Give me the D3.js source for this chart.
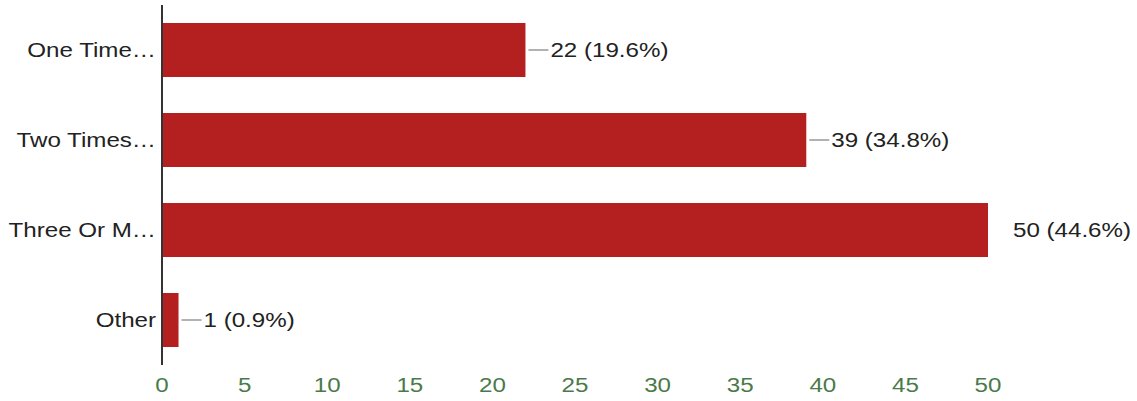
<!DOCTYPE html>
<html>
<head>
<meta charset="utf-8">
<script src="https://cdn.jsdelivr.net/npm/d3@7"></script>
<style>
  html, body { margin: 0; padding: 0; background: #fff; }
  text { font-family: "Liberation Sans", Arial, sans-serif; }
</style>
</head>
<body>
<div id="chart"></div>
<script>
// answers and counts
const categories = ["One Time\u2026", "Two Times\u2026", "Three Or M\u2026", "Other"];
const counts = [22, 39, 50, 1];
const percents = ["19.6%", "34.8%", "44.6%", "0.9%"];
const xTicks = [0, 5, 10, 15, 20, 25, 30, 35, 40, 45, 50];

const width = 1137, height = 401;
const stretch = 1.15; // the scan is wider than it is tall

const svg = d3.select("#chart")
  .append("svg")
  .attr("width", width)
  .attr("height", height);

const x = d3.scaleLinear().domain([0, 50]).range([162, 988]);
const y = d3.scaleBand().domain(categories).range([5, 365]).paddingInner(0.4).paddingOuter(0.2);

const data = categories.map((c, i) => ({ cat: c, value: counts[i], pct: percents[i] }));
const maxVal = d3.max(counts);

// bars
svg.selectAll(".bar")
  .data(data)
  .enter()
  .append("rect")
  .attr("class", "bar")
  .attr("x", x(0))
  .attr("y", d => y(d.cat))
  .attr("width", d => x(d.value) - x(0))
  .attr("height", y.bandwidth())
  .attr("fill", "#b3201f");

// vertical axis line
svg.append("line")
  .attr("x1", x(0)).attr("x2", x(0))
  .attr("y1", 5).attr("y2", 365)
  .attr("stroke", "#333")
  .attr("stroke-width", 2);

// helper for stretched text
function label(sel, tx, ty, anchor, str, color) {
  const g = sel.append("g").attr("transform", `translate(${tx},${ty}) scale(${stretch},1)`);
  g.append("text")
    .attr("text-anchor", anchor)
    .attr("dominant-baseline", "central")
    .style("font-size", "21px")
    .style("fill", color)
    .text(str);
}

// category labels
data.forEach(d => {
  label(svg, x(0) - 6, y(d.cat) + y.bandwidth() / 2, "end", d.cat, "#222");
});

// leader lines and values
data.forEach(d => {
  const cy = y(d.cat) + y.bandwidth() / 2;
  const end = x(d.value);
  if (d.value < maxVal) {
    svg.append("line")
      .attr("x1", end + 3).attr("x2", end + 23)
      .attr("y1", cy).attr("y2", cy)
      .attr("stroke", "#999")
      .attr("stroke-width", 1.5);
  }
  label(svg, end + 25, cy, "start", `${d.value} (${d.pct})`, "#222");
});

// x tick labels
xTicks.forEach(t => {
  label(svg, x(t), 385, "middle", t, "#4a7a4a");
});
</script>
</body>
</html>
